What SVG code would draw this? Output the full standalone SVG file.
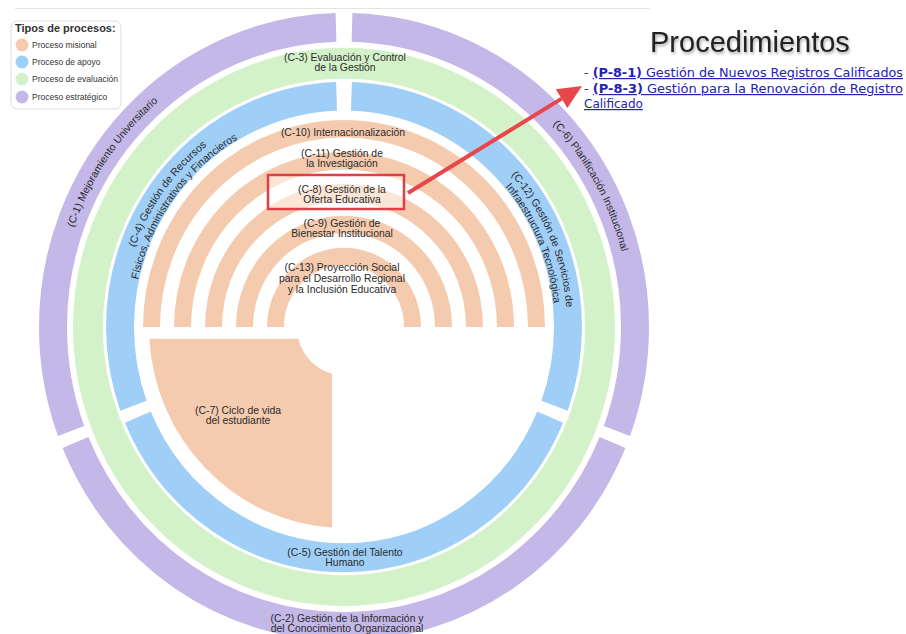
<svg xmlns="http://www.w3.org/2000/svg" width="906" height="634" viewBox="0 0 906 634">
<style>
.lbl{font-family:"Liberation Sans",Arial,sans-serif;font-size:10.4px;fill:#2a2a2a;text-anchor:middle}
.ring{fill:none}
.pu{stroke:#C4B8E8}.gr{stroke:#D4F2C9}.bl{stroke:#9FCFF7}.or{stroke:#F5CBAF;stroke-width:17;fill:none}
.leg{font-family:"Liberation Sans",Arial,sans-serif;font-size:8.5px;fill:#333}
.lnk{font-family:"DejaVu Sans",Verdana,sans-serif;font-size:12px;fill:#2323b0}
.u{text-decoration:underline}
</style>
<defs>
<path id="tp1" d="M -269.7 98.2 A 287 287 0 0 1 -10 -286.8"/>
<path id="tp6" d="M 10 -286.8 A 287 287 0 0 1 269.7 98.2"/>
<path id="tp4a" d="M -209.6 76.3 A 223 223 0 0 1 -7.8 -222.9"/>
<path id="tp4b" d="M -198.3 72.2 A 211 211 0 0 1 -7.4 -210.9"/>
<path id="tp12a" d="M 7.8 -222.9 A 223 223 0 0 1 209.6 76.3"/>
<path id="tp12b" d="M 7.4 -210.9 A 211 211 0 0 1 198.3 72.2"/>
<filter id="sh" x="-10%" y="-20%" width="120%" height="150%"><feDropShadow dx="1" dy="2" stdDeviation="1.5" flood-color="#000" flood-opacity="0.35"/></filter>
</defs>
<line x1="15" y1="8.5" x2="650" y2="8.5" stroke="#e4e4e4" stroke-width="1"/>
<g id="legend">
<rect x="11" y="21" width="110" height="88" rx="6" fill="#fff" stroke="#ddd"/>
<text x="15" y="32" font-family="Liberation Sans,Arial,sans-serif" font-size="11" font-weight="bold" fill="#333">Tipos de procesos:</text>
<circle cx="22" cy="45" r="6.5" fill="#F5CBAF"/><text class="leg" x="32" y="48">Proceso misional</text>
<circle cx="22" cy="62" r="6.5" fill="#9FCFF7"/><text class="leg" x="32" y="65">Proceso de apoyo</text>
<circle cx="22" cy="79" r="6.5" fill="#D4F2C9"/><text class="leg" x="32" y="82">Proceso de evaluación</text>
<circle cx="22" cy="97" r="6.5" fill="#C4B8E8"/><text class="leg" x="32" y="100">Proceso estratégico</text>
</g>
<g transform="translate(344 327) scale(1 1.03)">
<g id="C-1"><circle class="ring pu" r="291" stroke-width="28" pathLength="360" stroke-dasharray="108.72 251.28" stroke-dashoffset="-159.68"/>
<text class="lbl"><textPath href="#tp1" startOffset="50.6%">(C-1) Mejoramiento Universitario</textPath></text></g>
<g id="C-6"><circle class="ring pu" r="291" stroke-width="28" pathLength="360" stroke-dasharray="108.72 251.28" stroke-dashoffset="-271.6"/>
<text class="lbl"><textPath href="#tp6" startOffset="54.6%">(C-6) Planificación Institucional</textPath></text></g>
<g id="C-2"><circle class="ring pu" r="291" stroke-width="28" pathLength="360" stroke-dasharray="134.64 225.36" stroke-dashoffset="-22.68"/></g>
<g id="C-3"><circle class="ring gr" r="256" stroke-width="30"/></g>
<g id="C-4"><circle class="ring bl" r="224" stroke-width="28" pathLength="360" stroke-dasharray="108.05 251.95" stroke-dashoffset="-160.03"/>
<text class="lbl"><textPath href="#tp4a" startOffset="52%">(C-4) Gestión de Recursos</textPath></text>
<text class="lbl"><textPath href="#tp4b" startOffset="52%">Físicos, Administrativos y Financieros</textPath></text></g>
<g id="C-12"><circle class="ring bl" r="224" stroke-width="28" pathLength="360" stroke-dasharray="108.05 251.95" stroke-dashoffset="-271.92"/>
<text class="lbl"><textPath href="#tp12a" startOffset="60%">(C-12) Gestión de Servicios de</textPath></text>
<text class="lbl"><textPath href="#tp12b" startOffset="60%">Infraestructura Tecnológica</textPath></text></g>
<g id="C-5"><circle class="ring bl" r="224" stroke-width="28" pathLength="360" stroke-dasharray="133.94 226.06" stroke-dashoffset="-23.03"/></g>
<g id="C-10"><path class="or" d="M -192.5 0 A 192.5 192.5 0 0 1 192.5 0"/></g>
<g id="C-11"><path class="or" d="M -161.5 0 A 161.5 161.5 0 0 1 161.5 0"/></g>
<g id="C-8"><path class="or" d="M -130.5 0 A 130.5 130.5 0 0 1 130.5 0"/></g>
<g id="C-9"><path class="or" d="M -99.5 0 A 99.5 99.5 0 0 1 99.5 0"/></g>
<g id="C-13"><path class="or" d="M -68.5 0 A 68.5 68.5 0 0 1 68.5 0"/></g>
<g id="C-7"><path d="M -12 45.4 L -12 194.6 A 195 195 0 0 1 -194.66 11.5 L -45.6 11.5 A 47 47 0 0 0 -12 45.4 Z" fill="#F5CBAF"/></g>
</g>
<g id="labels">
<text class="lbl" x="345" y="61">(C-3) Evaluación y Control</text><text class="lbl" x="345" y="71">de la Gestión</text>
<text class="lbl" x="343" y="135.5">(C-10) Internacionalización</text>
<text class="lbl" x="342" y="157">(C-11) Gestión de</text><text class="lbl" x="342" y="167">la Investigación</text>
<rect id="highlight" x="268" y="175" width="136" height="34" fill="#fff" fill-opacity="0.5" stroke="#DF3F45" stroke-width="2.5"/>
<text class="lbl" x="342" y="192.5">(C-8) Gestión de la</text><text class="lbl" x="342" y="202.5">Oferta Educativa</text>
<text class="lbl" x="342" y="226.5">(C-9) Gestión de</text><text class="lbl" x="342" y="236.5">Bienestar Institucional</text>
<text class="lbl" x="342" y="271">(C-13) Proyección Social</text><text class="lbl" x="342" y="282">para el Desarrollo Regional</text><text class="lbl" x="342" y="293">y la Inclusión Educativa</text>
<text class="lbl" x="238" y="414">(C-7) Ciclo de vida</text><text class="lbl" x="238" y="424">del estudiante</text>
<text class="lbl" x="345" y="555.5">(C-5) Gestión del Talento</text><text class="lbl" x="345" y="565.5">Humano</text>
<text class="lbl" x="347" y="621.5">(C-2) Gestión de la Información y</text><text class="lbl" x="347" y="631.5">del Conocimiento Organizacional</text>
</g>
<g id="connectors">
<line x1="408" y1="193" x2="561.6" y2="98.6" stroke="#E8464B" stroke-width="4"/>
<polygon points="582,86 567.4,108 555.8,89.2" fill="#E8464B"/>
</g>
<g id="procedimientos">
<text x="650" y="52" font-family="Liberation Sans,Arial,sans-serif" font-size="29" fill="#222" filter="url(#sh)">Procedimientos</text>
<text class="lnk" x="584" y="77" textLength="319" lengthAdjust="spacingAndGlyphs"><tspan fill="#444">- </tspan><tspan class="u" font-weight="bold">(P-8-1)</tspan><tspan class="u"> Gestión de Nuevos Registros Calificados</tspan></text>
<text class="lnk" x="584" y="93" textLength="319" lengthAdjust="spacingAndGlyphs"><tspan fill="#444">- </tspan><tspan class="u" font-weight="bold">(P-8-3)</tspan><tspan class="u"> Gestión para la Renovación de Registro</tspan></text>
<text class="lnk u" x="584" y="108">Calificado</text>
</g>
</svg>
